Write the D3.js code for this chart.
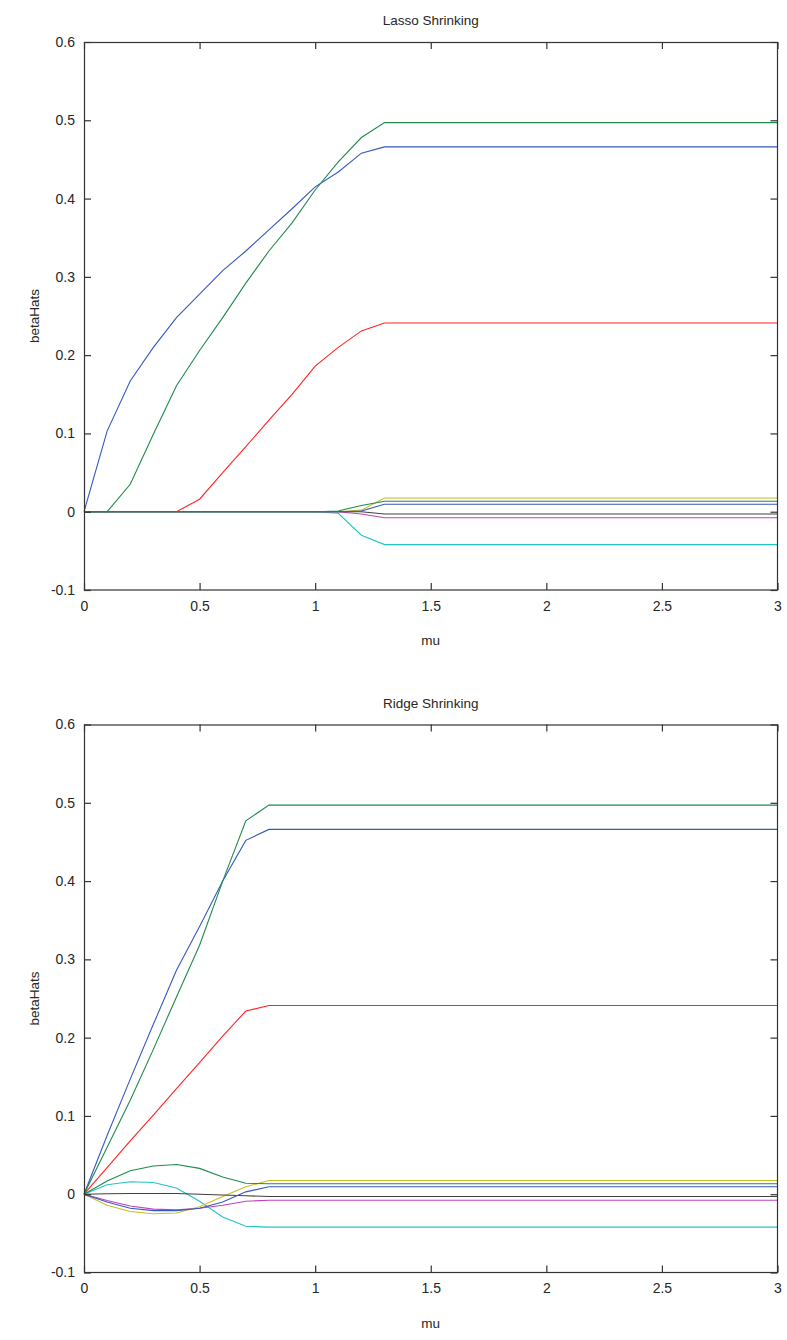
<!DOCTYPE html>
<html><head><meta charset="utf-8">
<script src="https://cdn.jsdelivr.net/npm/d3@7"></script>
<style>
body{margin:0;background:#fff;}
text{font-family:"Liberation Sans",Arial,sans-serif;fill:#262626;}
</style></head>
<body><svg id="c" width="787" height="1340"></svg>
<script>
// ---------- data ----------
const xTicks = [0, 0.5, 1, 1.5, 2, 2.5, 3];
const xTickLabels = ["0", "0.5", "1", "1.5", "2", "2.5", "3"];
const yTicks = [-0.1, 0, 0.1, 0.2, 0.3, 0.4, 0.5, 0.6];
const yTickLabels = ["-0.1", "0", "0.1", "0.2", "0.3", "0.4", "0.5", "0.6"];
const seriesColors = ["#3558c4", "#1f8a4c", "#ff2424", "#22c4c4", "#c040c0", "#c4c020", "#404040", "#3558c4", "#1f8a4c"];

const lassoMu = [0, 0.1, 0.2, 0.3, 0.4, 0.5, 0.6, 0.7, 0.8, 0.9, 1.0, 1.1, 1.2, 1.3, 3.0];
const lassoB1 = [0, 0.103, 0.167, 0.210, 0.248, 0.278, 0.308, 0.333, 0.360, 0.387, 0.415, 0.434, 0.458, 0.466, 0.466];
const lassoB2 = [0, 0, 0.035, 0.099, 0.161, 0.206, 0.248, 0.292, 0.333, 0.369, 0.411, 0.447, 0.478, 0.497, 0.497];
const lassoB3 = [0, 0, 0, 0, 0, 0.016, 0.050, 0.083, 0.117, 0.150, 0.186, 0.210, 0.231, 0.241, 0.241];
const lassoB4 = [0, 0, 0, 0, 0, 0, 0, 0, 0, 0, 0, -0.002, -0.030, -0.042, -0.042];
const lassoB5 = [0, 0, 0, 0, 0, 0, 0, 0, 0, 0, 0, 0, -0.003, -0.0077, -0.0077];
const lassoB6 = [0, 0, 0, 0, 0, 0, 0, 0, 0, 0, 0, 0, 0.002, 0.0175, 0.0175];
const lassoB7 = [0, 0, 0, 0, 0, 0, 0, 0, 0, 0, 0, 0, 0, -0.003, -0.003];
const lassoB8 = [0, 0, 0, 0, 0, 0, 0, 0, 0, 0, 0, 0, 0.001, 0.0095, 0.0095];
const lassoB9 = [0, 0, 0, 0, 0, 0, 0, 0, 0, 0, 0, 0.001, 0.008, 0.0133, 0.0133];

const ridgeMu = [0, 0.1, 0.2, 0.3, 0.4, 0.5, 0.6, 0.7, 0.8, 3.0];
const ridgeB1 = [0, 0.075, 0.147, 0.217, 0.286, 0.342, 0.400, 0.452, 0.466, 0.466];
const ridgeB2 = [0, 0.060, 0.120, 0.185, 0.252, 0.318, 0.400, 0.477, 0.497, 0.497];
const ridgeB3 = [0, 0.034, 0.068, 0.101, 0.135, 0.168, 0.202, 0.234, 0.241, 0.241];
const ridgeB4 = [0, 0.012, 0.016, 0.015, 0.008, -0.009, -0.029, -0.041, -0.042, -0.042];
const ridgeB5 = [0, -0.008, -0.015, -0.019, -0.020, -0.018, -0.014, -0.009, -0.0077, -0.0077];
const ridgeB6 = [0, -0.014, -0.022, -0.025, -0.024, -0.016, -0.003, 0.0095, 0.0175, 0.0175];
const ridgeB7 = [0, 0.0005, 0.001, 0.001, 0.001, 0.0, -0.001, -0.002, -0.003, -0.003];
const ridgeB8 = [0, -0.010, -0.018, -0.021, -0.021, -0.018, -0.010, 0.003, 0.0095, 0.0095];
const ridgeB9 = [0, 0.017, 0.030, 0.036, 0.038, 0.033, 0.022, 0.014, 0.0133, 0.0133];

const panels = [
  {title: "Lasso Shrinking", mu: lassoMu, series: [lassoB1, lassoB2, lassoB3, lassoB4, lassoB5, lassoB6, lassoB7, lassoB8, lassoB9], top: 42},
  {title: "Ridge Shrinking", mu: ridgeMu, series: [ridgeB1, ridgeB2, ridgeB3, ridgeB4, ridgeB5, ridgeB6, ridgeB7, ridgeB8, ridgeB9], top: 724.5}
];

// ---------- drawing ----------
const svg = d3.select("#c");
const left = 84, right = 777.5, plotH = 548, tickLen = 7;
const axisColor = "#333";

panels.forEach(p => {
  const x = d3.scaleLinear().domain([0, 3]).range([left, right]);
  const y = d3.scaleLinear().domain([-0.1, 0.6]).range([p.top + plotH, p.top]);
  const g = svg.append("g");

  const line = d3.line().x((d, i) => x(p.mu[i])).y(d => y(d));
  p.series.forEach((s, k) => {
    g.append("path").datum(s).attr("d", line)
      .attr("fill", "none").attr("stroke", seriesColors[k]).attr("stroke-width", 1.1);
  });

  g.append("rect").attr("x", left + 0.5).attr("y", p.top + 0.5)
    .attr("width", right - left - 0.5).attr("height", plotH - 0.5)
    .attr("fill", "none").attr("stroke", axisColor).attr("stroke-width", 1.2);

  const bottomAxis = d3.axisBottom(x).tickValues(xTicks).tickSizeInner(-tickLen).tickSizeOuter(0)
    .tickFormat((d, i) => xTickLabels[i]).tickPadding(11);
  const ba = g.append("g").attr("transform", `translate(0,${p.top + plotH})`).call(bottomAxis);
  const topAxis = d3.axisTop(x).tickValues(xTicks).tickSizeInner(-tickLen).tickSizeOuter(0).tickFormat("");
  const ta = g.append("g").attr("transform", `translate(0,${p.top})`).call(topAxis);
  const leftAxis = d3.axisLeft(y).tickValues(yTicks).tickSizeInner(-tickLen).tickSizeOuter(0)
    .tickFormat((d, i) => yTickLabels[i]).tickPadding(9);
  const la = g.append("g").attr("transform", `translate(${left},0)`).call(leftAxis);
  const rightAxis = d3.axisRight(y).tickValues(yTicks).tickSizeInner(-tickLen).tickSizeOuter(0).tickFormat("");
  const ra = g.append("g").attr("transform", `translate(${right},0)`).call(rightAxis);
  [ba, ta, la, ra].forEach(a => {
    a.select(".domain").remove();
    a.selectAll("line").attr("stroke", axisColor).attr("stroke-width", 1.2);
    a.selectAll("text").attr("font-size", 14).attr("fill", "#262626")
      .style("font-family", '"Liberation Sans", Arial, sans-serif');
  });

  g.append("text").attr("x", (left + right) / 2).attr("y", p.top - 17)
    .attr("text-anchor", "middle").attr("font-size", 13.5).text(p.title);
  g.append("text").attr("x", (left + right) / 2).attr("y", p.top + plotH + 55)
    .attr("text-anchor", "middle").attr("font-size", 13.5).text("mu");
  g.append("text").attr("transform", `translate(39,${p.top + plotH / 2}) rotate(-90)`)
    .attr("text-anchor", "middle").attr("font-size", 13.5).text("betaHats");
});
</script></body></html>
